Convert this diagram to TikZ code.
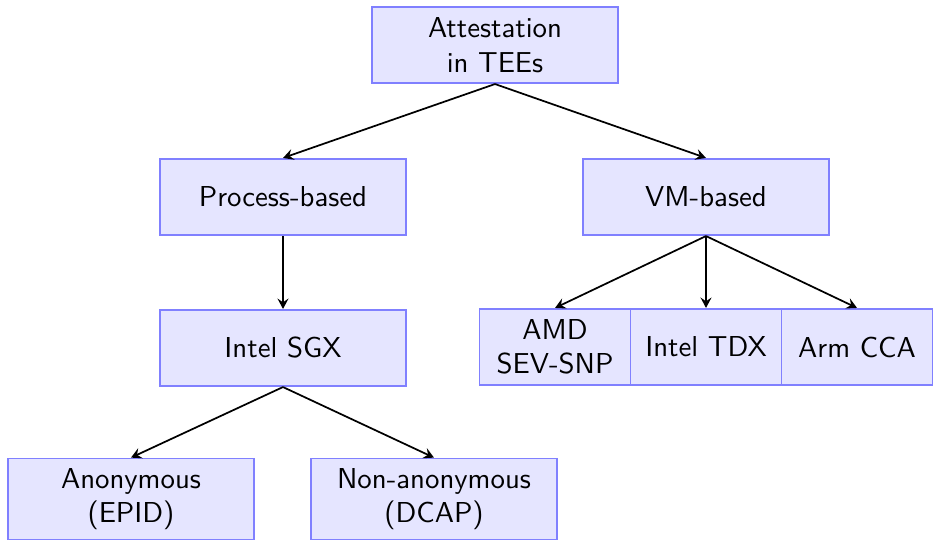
\documentclass[tikz,border=0pt]{standalone}
\usepackage{tikz}
\usetikzlibrary{arrows,positioning,arrows.meta}

\begin{document}
\begin{tikzpicture}[
    x=0.347pt, y=0.347pt,
    >={Stealth[length=3.6pt, width=3.8pt, inset=1.3pt]},
    box/.style={draw=blue!50, fill=blue!10, semithick, rectangle, align=center, font=\sffamily, minimum width=3cm, minimum height=26.5pt},
    leaf/.style={box, minimum width=52.4pt},
    link/.style={->, semithick}
]
    \useasboundingbox (0,0) rectangle (933,540);

    \node [box] (root) at (495,495) {Attestation\\in TEEs};
    \node [box] (proc) at (283,343) {Process-based};
    \node [box] (vm) at (706,343) {VM-based};
    \node [box] (sgx) at (283,192) {Intel SGX};
    \node [box] (anon) at (131,41) {Anonymous\\(EPID)};
    \node [box] (nonanon) at (434,41) {Non-anonymous\\(DCAP)};

    % VM-based TEEs
    \foreach \name/\xpos/\label in {amd/555/{AMD\\SEV-SNP}, tdx/706/{Intel TDX}, arm/857/{Arm CCA}} {
        \node [leaf] (\name) at (\xpos,193) {\label};
        \draw [link] (vm.south) -- (\name.north);
    }

    \draw [link] (root.south) -- (proc.north);
    \draw [link] (root.south) -- (vm.north);
    \draw [link] (proc.south) -- (sgx.north);
    \draw [link] (sgx.south) -- (anon.north);
    \draw [link] (sgx.south) -- (nonanon.north);
\end{tikzpicture}
\end{document}
